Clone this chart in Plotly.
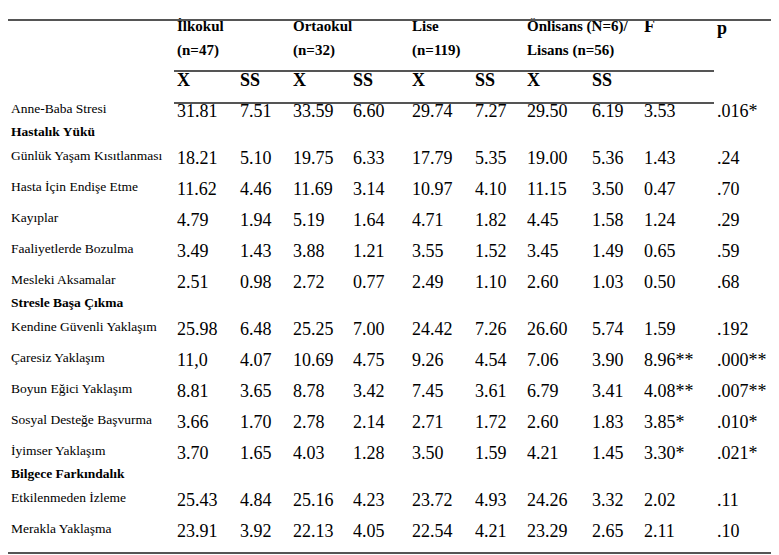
import plotly.graph_objects as go

# column headers
group_names = ["İlkokul", "Ortaokul", "Lise", "Önlisans (N=6)/"]
group_sizes = ["(n=47)", "(n=32)", "(n=119)", "Lisans (n=56)"]
sub_headers = ["X", "SS", "X", "SS", "X", "SS", "X", "SS"]

# row groups: (section title, rows)
sections = [
    ("", ["Anne-Baba Stresi"]),
    ("Hastalık Yükü", ["Günlük Yaşam Kısıtlanması", "Hasta İçin Endişe Etme",
                       "Kayıplar", "Faaliyetlerde Bozulma", "Mesleki Aksamalar"]),
    ("Stresle Başa Çıkma", ["Kendine Güvenli Yaklaşım", "Çaresiz Yaklaşım",
                            "Boyun Eğici Yaklaşım", "Sosyal Desteğe Başvurma",
                            "İyimser Yaklaşım"]),
    ("Bilgece Farkındalık", ["Etkilenmeden İzleme", "Merakla Yaklaşma"]),
]

ilkokul_x = ["31.81", "18.21", "11.62", "4.79", "3.49", "2.51", "25.98", "11,0", "8.81", "3.66", "3.70", "25.43", "23.91"]
ilkokul_ss = ["7.51", "5.10", "4.46", "1.94", "1.43", "0.98", "6.48", "4.07", "3.65", "1.70", "1.65", "4.84", "3.92"]
ortaokul_x = ["33.59", "19.75", "11.69", "5.19", "3.88", "2.72", "25.25", "10.69", "8.78", "2.78", "4.03", "25.16", "22.13"]
ortaokul_ss = ["6.60", "6.33", "3.14", "1.64", "1.21", "0.77", "7.00", "4.75", "3.42", "2.14", "1.28", "4.23", "4.05"]
lise_x = ["29.74", "17.79", "10.97", "4.71", "3.55", "2.49", "24.42", "9.26", "7.45", "2.71", "3.50", "23.72", "22.54"]
lise_ss = ["7.27", "5.35", "4.10", "1.82", "1.52", "1.10", "7.26", "4.54", "3.61", "1.72", "1.59", "4.93", "4.21"]
lisans_x = ["29.50", "19.00", "11.15", "4.45", "3.45", "2.60", "26.60", "7.06", "6.79", "2.60", "4.21", "24.26", "23.29"]
lisans_ss = ["6.19", "5.36", "3.50", "1.58", "1.49", "1.03", "5.74", "3.90", "3.41", "1.83", "1.45", "3.32", "2.65"]
f_values = ["3.53", "1.43", "0.47", "1.24", "0.65", "0.50", "1.59", "8.96**", "4.08**", "3.85*", "3.30*", "2.02", "2.11"]
p_values = [".016*", ".24", ".70", ".29", ".59", ".68", ".192", ".000**", ".007**", ".010*", ".021*", ".11", ".10"]

columns = [ilkokul_x, ilkokul_ss, ortaokul_x, ortaokul_ss, lise_x, lise_ss,
           lisans_x, lisans_ss, f_values, p_values]

# layout (pixels)
W, H = 779, 555
col_left = [169, 232, 285, 345, 404, 467, 519, 584, 636, 709]
FONT = "Liberation Serif"
LINE = "#555555"

# vertical placement of rows
row_y, row_lbl, head_y, head_lbl = [], [], [], []
y = None
for title, rows in sections:
    if title:
        head_y.append(y + 21)
        head_lbl.append(title)
        y = y + 47
    else:
        y = 104 if y is None else y + 31
    for k, r in enumerate(rows):
        if k > 0:
            y += 31
        row_y.append(y)
        row_lbl.append(r)

fig = go.Figure()

def txt(xs, ys, texts, size, bold=False):
    if bold:
        texts = ["<b>%s</b>" % t for t in texts]
    fig.add_trace(go.Scatter(
        x=xs, y=ys, text=texts, mode="text", textposition="middle right",
        textfont=dict(family=FONT, size=size, color="black"),
        hoverinfo="skip", showlegend=False))

# header
txt(col_left[0:8:2], [19] * 4, group_names, 15, bold=True)
txt(col_left[0:8:2], [43] * 4, group_sizes, 15, bold=True)
txt(col_left[8:], [19, 21], ["F", "p"], 18, bold=True)
txt(col_left[:8], [73] * 8, sub_headers, 18, bold=True)

# row labels and section titles
txt([3] * len(row_lbl), [v - 2 for v in row_y], row_lbl, 13.5)
txt([3] * len(head_lbl), head_y, head_lbl, 13.5, bold=True)

# cell values
for cx, vals in zip(col_left, columns):
    txt([cx] * len(vals), row_y, vals, 18)

for x0, x1, yy in [(0, W, 12), (166, 706, 63), (166, 706, 95), (0, W, 545)]:
    fig.add_shape(type="line", x0=x0, x1=x1, y0=yy, y1=yy, xref="x", yref="y",
                  line=dict(color=LINE, width=1.8))

fig.update_layout(
    width=W, height=H, margin=dict(l=0, r=0, t=0, b=0),
    paper_bgcolor="white", plot_bgcolor="white",
    xaxis=dict(range=[0, W], visible=False, fixedrange=True),
    yaxis=dict(range=[H, 0], visible=False, fixedrange=True),
)
fig.write_html("out.html")
